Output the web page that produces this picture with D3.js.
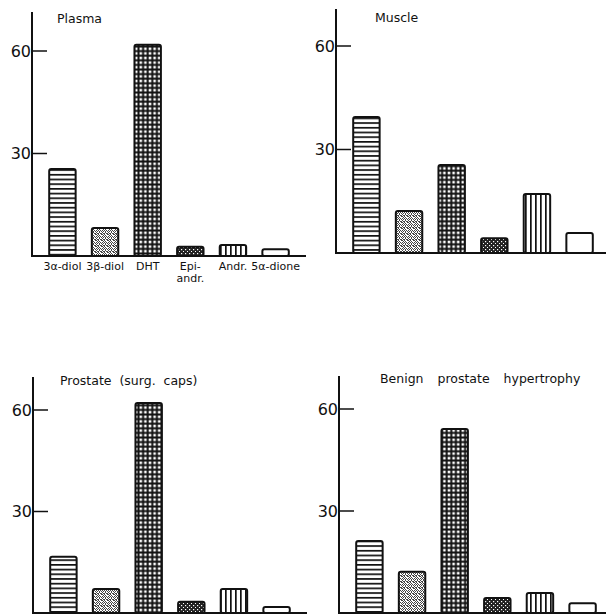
<!DOCTYPE html>
<html>
<head>
<meta charset="utf-8">
<script src="https://cdn.jsdelivr.net/npm/d3@7"></script>
<style>
  body { margin: 0; background: #fff; }
  svg { display: block; }
  text { font-family: 'DejaVu Sans', sans-serif; fill: #111; }
</style>
</head>
<body>
<svg id="svg" width="606" height="614"></svg>
<script>
// steroids, same order in every panel
const steroids = ['3α-diol', '3β-diol', 'DHT', 'Epi-|andr.', 'Andr.', '5α-dione']
const patterns = ['hlines', 'stipple', 'grid', 'hatch', 'vlines', 'empty']
const yTicks = [30, 60]

const plasma = [25.5, 8.2, 61.8, 2.7, 3.2, 2.0]
const muscle = [39.4, 12.2, 25.5, 4.3, 17.1, 5.8]
const prostate = [16.6, 7.1, 62.1, 3.3, 7.1, 1.8]
const bph = [21.2, 12.1, 54.1, 4.4, 5.9, 2.9]

const panels = [
  { title: 'Plasma', values: plasma, axisX: 32, base: 256, y60: 51, top: 12, titleX: 57, titleY: 23, ws: 0, labels: true },
  { title: 'Muscle', values: muscle, axisX: 336, base: 253, y60: 46, top: 9, titleX: 375, titleY: 22, ws: 0 },
  { title: 'Prostate (surg. caps)', values: prostate, axisX: 33, base: 613, y60: 410, top: 377, titleX: 60, titleY: 385, ws: 4 },
  { title: 'Benign prostate hypertrophy', values: bph, axisX: 339, base: 613, y60: 409, top: 376, titleX: 380, titleY: 383, ws: 10 }
]

const svg = d3.select('#svg')
const defs = svg.append('defs')

// fill patterns
const hl = defs.append('pattern').attr('id', 'hlines').attr('patternUnits', 'userSpaceOnUse')
  .attr('width', 10).attr('height', 4.7)
hl.append('rect').attr('width', 10).attr('height', 4.7).attr('fill', '#fff')
hl.append('rect').attr('y', 0).attr('width', 10).attr('height', 1.7).attr('fill', '#111')

const st = defs.append('pattern').attr('id', 'stipple').attr('patternUnits', 'userSpaceOnUse')
  .attr('width', 6).attr('height', 6)
st.append('rect').attr('width', 6).attr('height', 6).attr('fill', '#fff')
const dots = [[0, 0], [2, 0], [5, 0], [1, 1], [3, 1], [4, 2], [0, 2], [2, 2], [5, 3], [1, 3], [3, 4], [0, 4], [4, 5], [2, 5], [5, 5], [3, 3], [1, 5]]
dots.forEach(([x, y]) => st.append('rect').attr('x', x).attr('y', y).attr('width', 1).attr('height', 1).attr('fill', '#444'))

const gr = defs.append('pattern').attr('id', 'grid').attr('patternUnits', 'userSpaceOnUse')
  .attr('width', 4.6).attr('height', 4.6)
gr.append('rect').attr('width', 4.6).attr('height', 4.6).attr('fill', '#111')
gr.append('rect').attr('x', 1.5).attr('y', 1.5).attr('width', 2.6).attr('height', 2.6).attr('fill', '#fff')

const ht = defs.append('pattern').attr('id', 'hatch').attr('patternUnits', 'userSpaceOnUse')
  .attr('width', 4).attr('height', 4)
ht.append('rect').attr('width', 4).attr('height', 4).attr('fill', '#222')
ht.append('rect').attr('x', 1).attr('y', 1).attr('width', 1.2).attr('height', 1.2).attr('fill', '#fff')
ht.append('rect').attr('x', 3).attr('y', 3).attr('width', 1).attr('height', 1).attr('fill', '#fff')

const vl = defs.append('pattern').attr('id', 'vlines').attr('patternUnits', 'userSpaceOnUse')
  .attr('width', 5).attr('height', 10)
vl.append('rect').attr('width', 5).attr('height', 10).attr('fill', '#fff')
vl.append('rect').attr('x', 0).attr('width', 1.7).attr('height', 10).attr('fill', '#111')

panels.forEach(p => {
  const g = svg.append('g')

  const x = d3.scaleBand()
    .domain(steroids)
    .range([p.axisX + 1, p.axisX + 273])
    .padding(0.38)

  const y = d3.scaleLinear()
    .domain([0, 60])
    .range([p.base, p.y60])

  // bars
  g.selectAll('rect.bar')
    .data(p.values)
    .enter()
    .append('rect')
    .attr('class', 'bar')
    .attr('x', (d, i) => x(steroids[i]))
    .attr('y', d => y(d))
    .attr('width', x.bandwidth())
    .attr('height', d => y(0) - y(d))
    .attr('rx', 2)
    .attr('fill', (d, i) => patterns[i] === 'empty' ? '#fff' : `url(#${patterns[i]})`)
    .attr('stroke', '#111')
    .attr('stroke-width', 2)

  // y axis line
  g.append('line')
    .attr('x1', p.axisX).attr('x2', p.axisX)
    .attr('y1', p.top).attr('y2', y(0) + 1)
    .attr('stroke', '#111').attr('stroke-width', 2)

  // baseline
  g.append('line')
    .attr('x1', p.axisX).attr('x2', p.axisX + 274)
    .attr('y1', y(0)).attr('y2', y(0))
    .attr('stroke', '#111').attr('stroke-width', 2)

  // ticks
  const ticks = g.selectAll('g.tick')
    .data(yTicks)
    .enter()
    .append('g')
    .attr('transform', d => `translate(${p.axisX}, ${y(d)})`)
  ticks.append('line')
    .attr('x1', 0).attr('x2', 15)
    .attr('stroke', '#111').attr('stroke-width', 1.5)
  ticks.append('text')
    .attr('x', -1)
    .attr('dy', '0.36em')
    .attr('text-anchor', 'end')
    .attr('font-size', 16)
    .text(d => d)

  g.append('text')
    .attr('x', p.titleX)
    .attr('y', p.titleY)
    .attr('font-size', 12.5)
    .attr('word-spacing', p.ws)
    .text(p.title)

  if (p.labels) {
    const lab = g.selectAll('text.lab')
      .data(steroids)
      .enter()
      .append('text')
      .attr('class', 'lab')
      .attr('text-anchor', 'middle')
      .attr('font-size', 11)
      .attr('y', y(0) + 14)
    lab.each(function (d) {
      const parts = d.split('|')
      parts.forEach((t, k) => {
        d3.select(this).append('tspan')
          .attr('x', x(d) + x.bandwidth() / 2)
          .attr('dy', k === 0 ? 0 : 12)
          .text(t)
      })
    })
  }
})
</script>
</body>
</html>
